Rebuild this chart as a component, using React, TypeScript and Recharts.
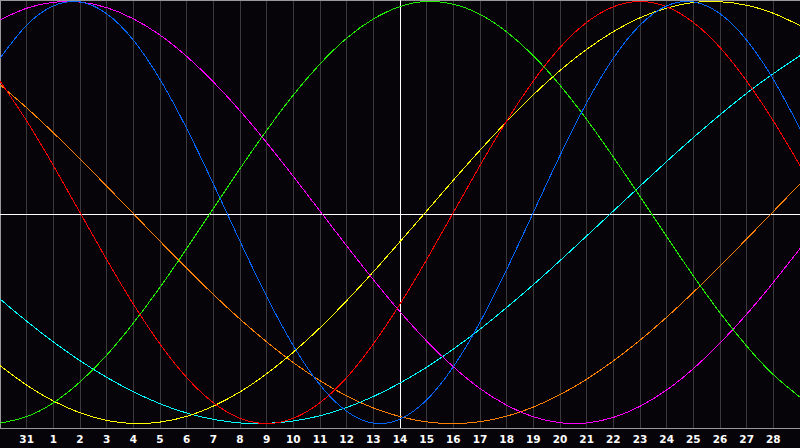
import React from "react";
import { LineChart, Line, XAxis, YAxis, CartesianGrid, ReferenceLine } from "recharts";

// Day labels for each sampled day (index 0 .. 30)
const days = ["30", "31", "1", "2", "3", "4", "5", "6", "7", "8", "9", "10", "11", "12", "13", "14", "15", "16", "17", "18", "19", "20", "21", "22", "23", "24", "25", "26", "27", "28", "1"];
const tickIdx = [1, 2, 3, 4, 5, 6, 7, 8, 9, 10, 11, 12, 13, 14, 15, 16, 17, 18, 19, 20, 21, 22, 23, 24, 25, 26, 27, 28, 29];

const physical = [73.1, 88.8, 97.9, 99.8, 94.2, 81.7, 63.1, 39.8, 13.6, -13.6, -39.8, -63.1, -81.7, -94.2, -99.8, -97.9, -88.8, -73.1, -52.0, -27.0, 0, 27.0, 52.0, 73.1, 88.8, 97.9, 99.8, 94.2, 81.7, 63.1, 39.8];
const emotional = [62.3, 43.4, 22.3, 0, -22.3, -43.4, -62.3, -78.2, -90.1, -97.5, -100, -97.5, -90.1, -78.2, -62.3, -43.4, -22.3, 0, 22.3, 43.4, 62.3, 78.2, 90.1, 97.5, 100, 97.5, 90.1, 78.2, 62.3, 43.4, 22.3];
const intellectual = [-99.8, -96.7, -90.2, -80.3, -67.6, -52.4, -35.4, -17.1, 1.9, 20.8, 38.9, 55.7, 70.4, 82.6, 91.7, 97.6, 100, 98.7, 93.9, 85.6, 74.3, 60.3, 44.1, 26.3, 7.6, -11.4, -30.0, -47.5, -63.3, -76.8, -87.5];
const intuitive = [91.3, 96.8, 99.6, 99.7, 97.1, 91.8, 84.1, 74.0, 61.9, 48.2, 33.1, 17.1, 0.7, -15.8, -31.8, -47.0, -60.9, -73.1, -83.4, -91.3, -96.8, -99.6, -99.7, -97.1, -91.8, -84.1, -74.0, -61.9, -48.2, -33.1, -17.1];
const aesthetic = [-72.5, -81.8, -89.3, -94.9, -98.5, -100, -99.3, -96.6, -91.7, -85.0, -76.4, -66.2, -54.6, -41.8, -28.1, -13.8, 0.7, 15.3, 29.5, 43.1, 55.8, 67.3, 77.3, 85.7, 92.3, 96.9, 99.5, 99.9, 98.2, 94.4, 88.6];
const awareness = [60.5, 49.6, 37.8, 25.4, 12.5, -0.5, -13.6, -26.4, -38.8, -50.5, -61.3, -71.1, -79.7, -86.9, -92.6, -96.7, -99.2, -100, -99.1, -96.5, -92.2, -86.3, -79.0, -70.3, -60.5, -49.6, -37.8, -25.4, -12.5, 0.5, 13.6];
const spiritual = [-41.0, -51.5, -61.3, -70.2, -78.1, -84.9, -90.6, -95.0, -98.0, -99.7, -99.9, -98.8, -96.3, -92.4, -87.2, -80.8, -73.3, -64.7, -55.3, -45.0, -34.2, -22.8, -11.1, 0.7, 12.5, 24.2, 35.5, 46.3, 56.5, 65.8, 74.3];

const data = days.map((d, i) => ({
  i,
  day: d,
  physical: physical[i],
  emotional: emotional[i],
  intellectual: intellectual[i],
  intuitive: intuitive[i],
  aesthetic: aesthetic[i],
  awareness: awareness[i],
  spiritual: spiritual[i],
}));

const series = [
  { key: "awareness", color: "#ff8000" },
  { key: "spiritual", color: "#00ffff" },
  { key: "aesthetic", color: "#ffff00" },
  { key: "intuitive", color: "#ff00ff" },
  { key: "intellectual", color: "#22ee00" },
  { key: "emotional", color: "#ff0000" },
  { key: "physical", color: "#0066ff" },
];

export default function App() {
  return (
    <div style={{ position: "fixed", left: 0, top: 0, width: 800, height: 448, background: "#060409" }}>
      <style>{".bio svg path, .bio svg line { shape-rendering: crispEdges; }"}</style>
      <div className="bio">
        <LineChart width={800} height={448} data={data} margin={{ top: 0, right: 0, bottom: 0, left: 0 }}>
          <CartesianGrid horizontal={false} stroke="#3a3a3a" strokeWidth={1} />
          <XAxis
            dataKey="i"
            type="number"
            domain={[0, 30]}
            ticks={tickIdx}
            tickFormatter={(v: number) => days[v]}
            interval={0}
            height={20}
            tickLine={false}
            axisLine={{ stroke: "#999999", strokeWidth: 1 }}
            tick={{ fill: "#ffffff", fontSize: 10.5, fontWeight: "bold", fontFamily: "DejaVu Sans" }}
          />
          <YAxis hide domain={[-102.1, 100.7]} />
          <ReferenceLine x={0} stroke="#999999" strokeWidth={2} />
          <ReferenceLine y={100.7} stroke="#999999" strokeWidth={2} />
          <ReferenceLine y={-1} stroke="#ffffff" strokeWidth={1} />
          <ReferenceLine x={15} stroke="#ffffff" strokeWidth={1} />
          {series.map((s) => (
            <Line
              key={s.key}
              dataKey={s.key}
              type="natural"
              stroke={s.color}
              strokeWidth={1}
              dot={false}
              activeDot={false}
              isAnimationActive={false}
            />
          ))}
        </LineChart>
      </div>
    </div>
  );
}
